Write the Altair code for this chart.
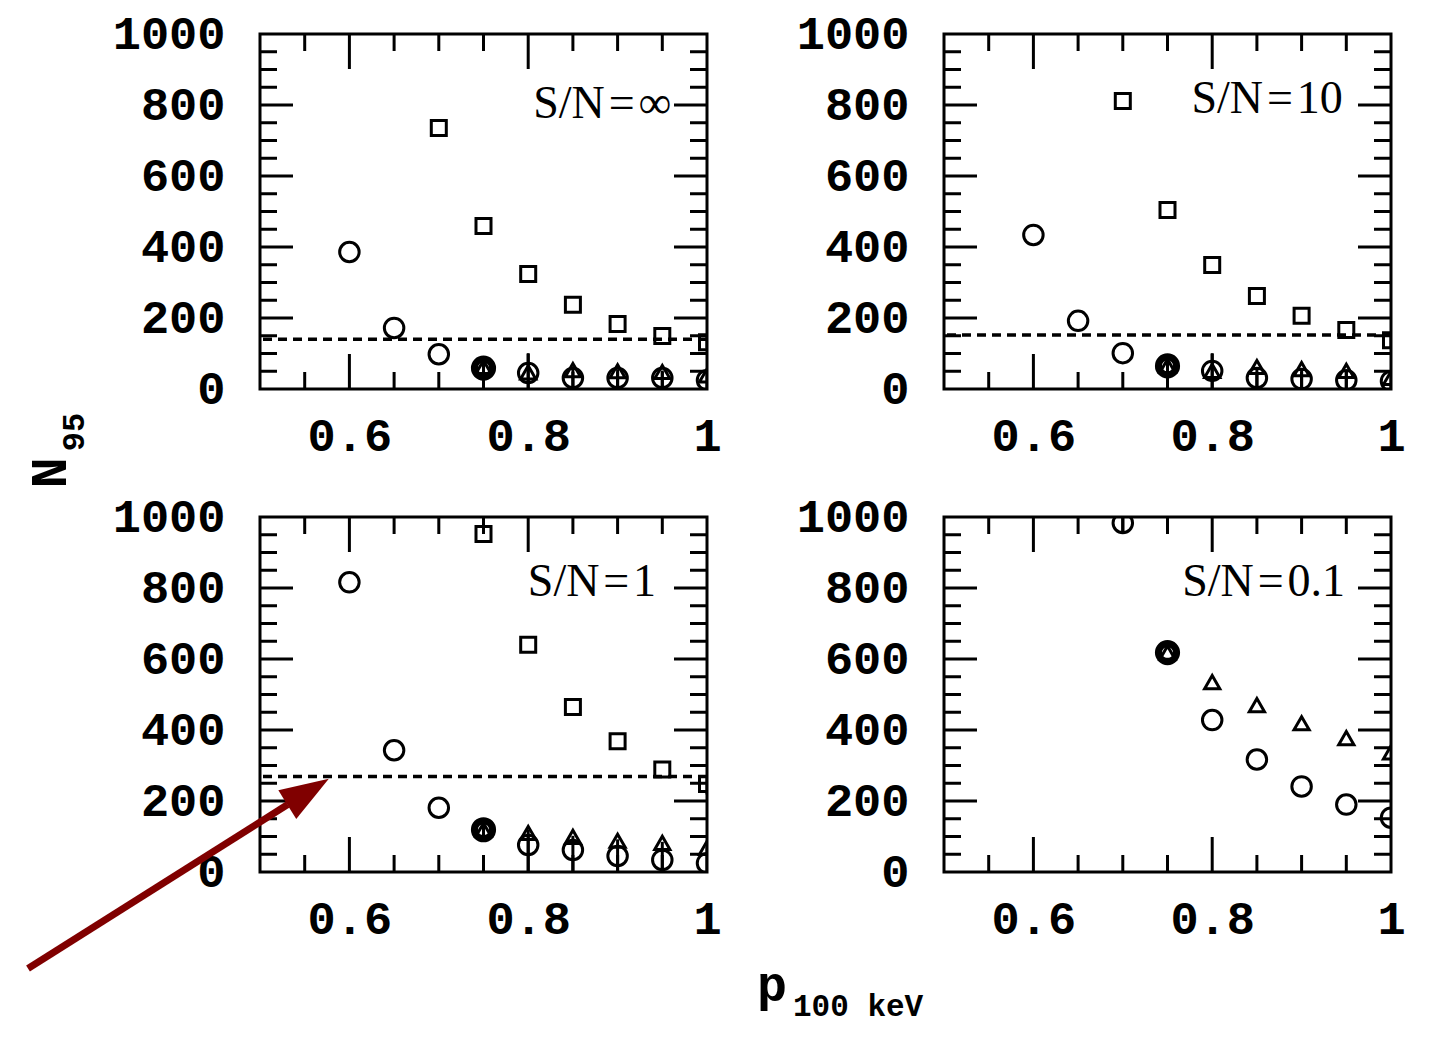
import altair as alt
import pandas as pd
import numpy as np

# ---------------- data ----------------
p_values = [0.6, 0.65, 0.7, 0.75, 0.8, 0.85, 0.9, 0.95, 1.0]

# S/N = infinity
circ_inf = [386, 172, 98, 59, 45, 31, 31, 31, 25]
tri_inf = [None, None, None, 62, 47, 53, 50, 48, 38]
sq_inf = [None, None, 735, 459, 324, 237, 183, 149, 132]
err_lo_inf = [None, None, None, 0, 0, 0, 0, 0, 0]
err_hi_inf = [None, None, None, 80, 101, 60, 55, 52, 45]
sqerr_lo_inf = [None] * 8 + [115]
sqerr_hi_inf = [None] * 8 + [150]

# S/N = 10
circ_10 = [434, 192, 101, 65, 51, 31, 28, 25, 22]
tri_10 = [None, None, None, 65, 51, 62, 56, 51, 31]
sq_10 = [None, None, 811, 504, 349, 262, 206, 166, 137]
err_lo_10 = [None, None, None, 0, 0, 0, 0, 0, 0]
err_hi_10 = [None, None, None, 82, 101, 62, 56, 52, 35]
sqerr_lo_10 = [None] * 8 + [118]
sqerr_hi_10 = [None] * 8 + [156]

# S/N = 1
circ_1 = [816, 343, 181, 119, 76, 62, 45, 34, 25]
tri_1 = [None, None, None, 119, 110, 99, 88, 82, 68]
sq_1 = [None, None, None, 952, 640, 465, 368, 289, 248]
err_lo_1 = [None, None, None, 100, 0, 0, 0, 0, 0]
err_hi_1 = [None, None, None, 140, 119, 102, 92, 85, 72]
sqerr_lo_1 = [None] * 8 + [218]
sqerr_hi_1 = [None] * 8 + [266]

# S/N = 0.1
circ_01 = [None, None, 983, 618, 428, 317, 241, 190, 153]
tri_01 = [None, None, None, 618, 535, 470, 419, 377, 337]
sq_01 = [None] * 9
err_lo_01 = [None, None, 960, None, None, None, None, None, None]
err_hi_01 = [None, None, 1010, None, None, None, None, None, None]
sqerr_lo_01 = [None] * 9
sqerr_hi_01 = [None] * 9

dashed_levels = [140, 152, 269, None]
panel_labels = ["S/N\u200a=\u200a\u221e", "S/N\u200a=\u200a10", "S/N\u200a=\u200a1", "S/N\u200a=\u200a0.1"]
label_x = [0.960, 0.946, 0.943, 0.9485]
label_y = [763, 777, 777, 777]

x_label_values = [0.6, 0.8, 1.0]
y_label_values = [0, 200, 400, 600, 800, 1000]
x_major_ticks = [0.6, 0.8]
x_minor_ticks = [0.55, 0.65, 0.7, 0.75, 0.85, 0.9, 0.95]
y_major_ticks = [200, 400, 600, 800]
y_minor_ticks = [50, 100, 150, 250, 300, 350, 450, 500, 550, 650, 700, 750, 850, 900, 950]

# arrow annotation (in lower-left panel data units)
arrow_x = [0.2405, 0.531]
arrow_y = [-272, 190]
arrow_tip = [0.577, 263]

# ---------------- styling ----------------
W, H = 447, 355
MAJ, MIN = 35, 17
MONO = "Liberation Mono"
SERIF = "Liberation Serif"

xscale = alt.Scale(domain=[0.5, 1.0], nice=False, zero=False)
yscale = alt.Scale(domain=[0, 1000], nice=False, zero=False)
xaxis = alt.Axis(values=x_label_values,
                 labelExpr="datum.value == 1 ? '1' : format(datum.value, '.1f')",
                 ticks=False, domain=False, grid=False, title=None,
                 labelFlush=False, labelOverlap=False, labelPadding=24,
                 labelFontSize=47, labelFont=MONO, labelFontWeight="bold",
                 labelColor="black")
yaxis = alt.Axis(values=y_label_values, format="d",
                 ticks=False, domain=False, grid=False, title=None,
                 labelFlush=False, labelOverlap=False, labelPadding=35,
                 labelFontSize=47, labelFont=MONO, labelFontWeight="bold",
                 labelColor="black")


def X(f="x"):
    return alt.X(f"{f}:Q", scale=xscale, axis=xaxis)


def Y(f="y"):
    return alt.Y(f"{f}:Q", scale=yscale, axis=yaxis)


def frame_ticks():
    layers = []
    for vals, ln in ((x_major_ticks, MAJ), (x_minor_ticks, MIN)):
        d = pd.DataFrame({"x": vals})
        layers.append(alt.Chart(d).mark_rule(color="black", strokeWidth=3).encode(
            x=X(), y=alt.value(H), y2=alt.value(H - ln)))
        layers.append(alt.Chart(d).mark_rule(color="black", strokeWidth=3).encode(
            x=X(), y=alt.value(0), y2=alt.value(ln)))
    for vals, ln in ((y_major_ticks, MAJ - 2), (y_minor_ticks, MIN)):
        d = pd.DataFrame({"y": vals})
        layers.append(alt.Chart(d).mark_rule(color="black", strokeWidth=3).encode(
            y=Y(), x=alt.value(0), x2=alt.value(ln)))
        layers.append(alt.Chart(d).mark_rule(color="black", strokeWidth=3).encode(
            y=Y(), x=alt.value(W), x2=alt.value(W - ln)))
    return layers


def panel(i, circ, tri, sq, elo, ehi, slo, shi):
    df = pd.DataFrame({"x": p_values,
                       "c": pd.array(circ, dtype="Float64"),
                       "t": pd.array(tri, dtype="Float64"),
                       "s": pd.array(sq, dtype="Float64"),
                       "lo": pd.array(elo, dtype="Float64"),
                       "hi": pd.array(ehi, dtype="Float64"),
                       "slo": pd.array(slo, dtype="Float64"),
                       "shi": pd.array(shi, dtype="Float64")}).astype(float)
    layers = []
    layers.append(alt.Chart(pd.DataFrame({"x": [0.5], "y": [0]})).mark_point(opacity=0).encode(x=X(), y=Y()))
    layers += frame_ticks()
    if dashed_levels[i] is not None:
        layers.append(alt.Chart(pd.DataFrame({"y": [dashed_levels[i]]})).mark_rule(
            color="black", strokeWidth=3.5, strokeDash=[9, 6], clip=True).encode(y=Y()))
    d = df.dropna(subset=["lo", "hi"])
    if len(d):
        layers.append(alt.Chart(d).mark_rule(color="black", strokeWidth=3, clip=True).encode(
            x=X(), y=Y("lo"), y2="hi:Q"))
    d = df.dropna(subset=["slo", "shi"])
    if len(d):
        layers.append(alt.Chart(d).mark_rule(color="black", strokeWidth=3, clip=True).encode(
            x=X(), y=Y("slo"), y2="shi:Q"))
    d = df.dropna(subset=["s"])
    if len(d):
        layers.append(alt.Chart(d).mark_point(shape="square", filled=False, size=225, strokeWidth=3,
                                              color="black", opacity=1, clip=True).encode(x=X(), y=Y("s")))
    d = df.dropna(subset=["c"])
    layers.append(alt.Chart(d).mark_point(shape="circle", filled=False, size=380, strokeWidth=3,
                                          color="black", opacity=1, clip=True).encode(x=X(), y=Y("c")))
    layers.append(alt.Chart(d).transform_filter("datum.x == 0.75").mark_point(
        shape="circle", filled=False, size=330, strokeWidth=7, color="black", opacity=1,
        clip=True).encode(x=X(), y=Y("c")))
    d = df.dropna(subset=["t"])
    layers.append(alt.Chart(d).mark_point(shape="triangle-up", filled=False, size=230, strokeWidth=3,
                                          color="black", opacity=1, clip=True).encode(x=X(), y=Y("t")))
    lab = pd.DataFrame({"x": [label_x[i]], "y": [label_y[i]], "t": [panel_labels[i]]})
    layers.append(alt.Chart(lab).mark_text(font=SERIF, fontSize=46, align="right", baseline="alphabetic",
                                           color="black").encode(x=X(), y=Y(), text="t:N"))
    return layers


p1 = panel(0, circ_inf, tri_inf, sq_inf, err_lo_inf, err_hi_inf, sqerr_lo_inf, sqerr_hi_inf)
p2 = panel(1, circ_10, tri_10, sq_10, err_lo_10, err_hi_10, sqerr_lo_10, sqerr_hi_10)
p3 = panel(2, circ_1, tri_1, sq_1, err_lo_1, err_hi_1, sqerr_lo_1, sqerr_hi_1)
p4 = panel(3, circ_01, tri_01, sq_01, err_lo_01, err_hi_01, sqerr_lo_01, sqerr_hi_01)

# shared y title (in panel 1 pixel space)
p1.append(alt.Chart(pd.DataFrame({"t": ["N"]})).mark_text(
    font=MONO, fontWeight="bold", fontSize=52, angle=270, align="center", baseline="middle",
    color="black").encode(x=alt.value(-210), y=alt.value(439), text="t:N"))
p1.append(alt.Chart(pd.DataFrame({"t": ["95"]})).mark_text(
    font=MONO, fontWeight="bold", fontSize=32, angle=270, align="center", baseline="middle",
    color="black").encode(x=alt.value(-186), y=alt.value(398), text="t:N"))

# shared x title and arrow (in panel 3 space)
p3.append(alt.Chart(pd.DataFrame({"t": ["p"]})).mark_text(
    font=MONO, fontWeight="bold", fontSize=50, align="left", baseline="alphabetic",
    color="black").encode(x=alt.value(497), y=alt.value(484), text="t:N"))
p3.append(alt.Chart(pd.DataFrame({"t": ["100 keV"]})).mark_text(
    font=MONO, fontWeight="bold", fontSize=31, align="left", baseline="alphabetic",
    color="black").encode(x=alt.value(533), y=alt.value(499), text="t:N"))
arrow_df = pd.DataFrame({"x": [arrow_x[0]], "x2": [arrow_x[1]], "y": [arrow_y[0]], "y2": [arrow_y[1]]})
p3.append(alt.Chart(arrow_df).mark_rule(color="#800000", strokeWidth=7, clip=False).encode(
    x=X(), x2="x2:Q", y=Y(), y2="y2:Q"))
head_df = pd.DataFrame({"x": [arrow_tip[0]], "y": [arrow_tip[1]]})
p3.append(alt.Chart(head_df).mark_point(
    shape="M0,0L-2,-0.69L-2,0.69Z", filled=True, size=2401, angle=328, color="#800000",
    opacity=1, strokeWidth=0, clip=False).encode(x=X(), y=Y()))


def mk(layers):
    return alt.layer(*layers).properties(width=W, height=H)


chart = alt.concat(mk(p1), mk(p2), mk(p3), mk(p4), columns=2,
                   spacing={"row": 128, "column": 237}, bounds="flush").properties(
    padding={"left": 22, "top": 8, "right": 10, "bottom": 10},
    background="white",
).configure_view(stroke="black", strokeWidth=3)

chart.save("out.html", embed_options={"renderer": "svg", "actions": False})
